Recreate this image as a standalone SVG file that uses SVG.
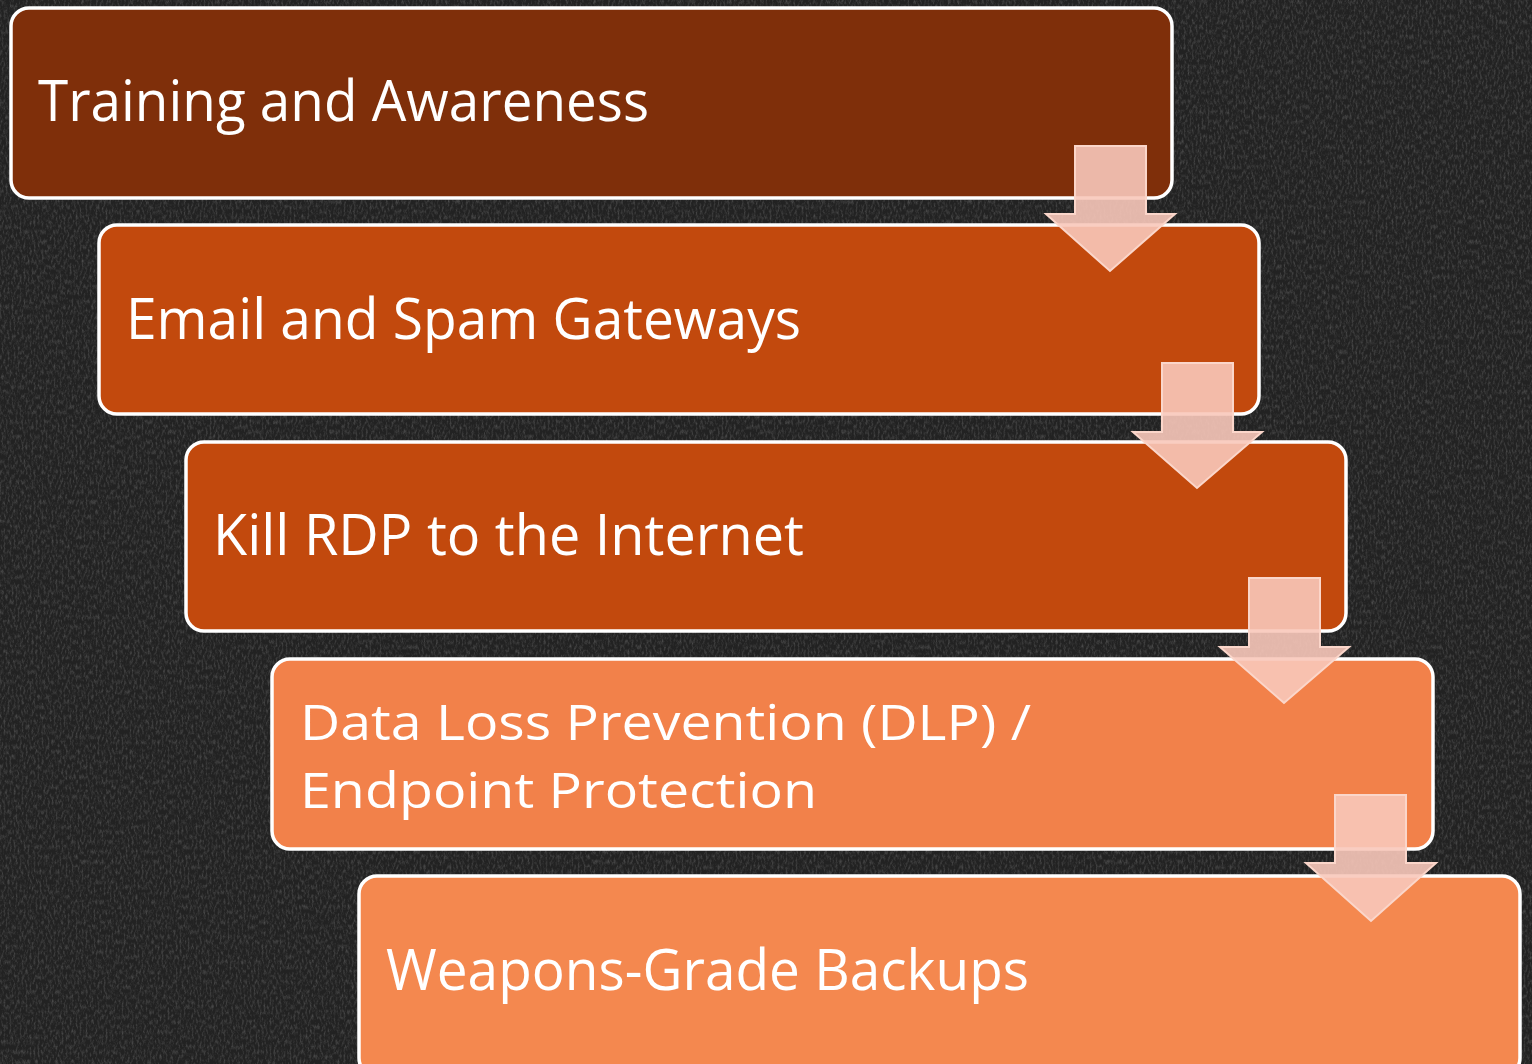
<svg xmlns="http://www.w3.org/2000/svg" width="1532" height="1064" viewBox="0 0 1532 1064">
<style>
.box{stroke:#ffffff;stroke-width:3.5}
.lbl{font-family:"Open Sans","Noto Sans","Liberation Sans",sans-serif;font-size:57px;fill:#ffffff}
.lbl2{font-size:49px}
.arr{fill:#F8C8BA;fill-opacity:0.9;stroke:#FBD6CA;stroke-width:2}
</style>
<defs>
<filter id="tex" x="0" y="0" width="100%" height="100%">
<feTurbulence type="fractalNoise" baseFrequency="0.5 0.2" numOctaves="4" seed="7" result="n"/>
<feColorMatrix in="n" type="matrix" values="0 0 0 0 0.6  0 0 0 0 0.6  0 0 0 0 0.6  0 0 0 1.4 -0.6"/>
</filter>
</defs>
<rect x="0" y="0" width="1532" height="1064" fill="#222222"/>
<rect x="0" y="0" width="1532" height="1064" filter="url(#tex)" opacity="0.35"/>
<g id="node1">
<rect class="box" x="11" y="8" width="1161" height="190" rx="18" fill="#7F2F0A"/>
<text class="lbl" x="38" y="121" textLength="611" lengthAdjust="spacingAndGlyphs">Training and Awareness</text>
</g>
<g id="node2">
<rect class="box" x="99" y="225" width="1160" height="189" rx="18" fill="#C2490D"/>
<text class="lbl" x="126" y="339" textLength="675" lengthAdjust="spacingAndGlyphs">Email and Spam Gateways</text>
</g>
<g id="node3">
<rect class="box" x="186" y="442" width="1160" height="189" rx="18" fill="#C2490D"/>
<text class="lbl" x="213" y="555" textLength="591" lengthAdjust="spacingAndGlyphs">Kill RDP to the Internet</text>
</g>
<g id="node4">
<rect class="box" x="272" y="659" width="1161" height="190" rx="18" fill="#F2814A"/>
<text class="lbl lbl2" x="300" y="740" textLength="731" lengthAdjust="spacingAndGlyphs">Data Loss Prevention (DLP) /</text>
<text class="lbl lbl2" x="300" y="808" textLength="517" lengthAdjust="spacingAndGlyphs">Endpoint Protection</text>
</g>
<g id="node5">
<rect class="box" x="359" y="876" width="1161" height="200" rx="18" fill="#F4884F"/>
<text class="lbl" x="386" y="990" textLength="643" lengthAdjust="spacingAndGlyphs">Weapons-Grade Backups</text>
</g>
<g id="connectors">
<polygon class="arr" points="1075,146 1146,146 1146,214 1175,214 1110,271 1046,214 1075,214"/>
<polygon class="arr" points="1162,363 1233,363 1233,432 1262,432 1197,488 1133,432 1162,432"/>
<polygon class="arr" points="1249,578 1320,578 1320,647 1349,647 1284,703 1220,647 1249,647"/>
<polygon class="arr" points="1335,795 1406,795 1406,863 1436,863 1371,921 1306,863 1335,863"/>
</g>
</svg>
